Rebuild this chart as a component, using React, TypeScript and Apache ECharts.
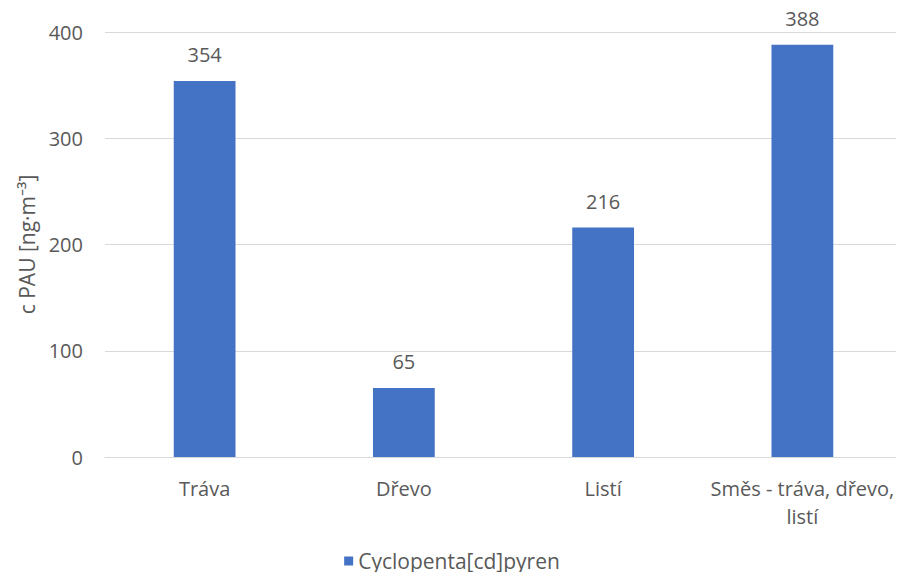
import React, { useEffect, useRef } from "react";
import * as echarts from "echarts";

const categories = ["Tráva", "Dřevo", "Listí", "Směs - tráva, dřevo,\nlistí"];
const values = [354, 65, 216, 388];
const seriesName = "Cyclopenta[cd]pyren";
const yAxisName = "c PAU [ng·m⁻³]";

const FONT = "'Open Sans', 'Noto Sans', sans-serif";
const TEXT = "#595959";
const SIZE = 20;

export default function App() {
  const ref = useRef<HTMLDivElement>(null);

  useEffect(() => {
    if (!ref.current) return;
    const chart = echarts.init(ref.current, null, { renderer: "svg" });
    chart.setOption({
      animation: false,
      backgroundColor: "#ffffff",
      textStyle: { fontFamily: FONT },
      grid: { left: 105, right: 2, top: 32, bottom: 123 },
      legend: {
        top: 548,
        left: "center",
        padding: 0,
        itemWidth: 9,
        itemHeight: 9,
        icon: "rect",
        itemGap: 4,
        textStyle: { color: TEXT, fontSize: 21, lineHeight: 26, fontFamily: FONT },
        data: [seriesName],
      },
      xAxis: {
        type: "category",
        data: categories,
        axisLine: { lineStyle: { color: "#d9d9d9", width: 1 } },
        axisTick: { show: false },
        axisLabel: {
          color: TEXT,
          fontSize: SIZE,
          fontFamily: FONT,
          margin: 17,
          lineHeight: 28,
          interval: 0,
        },
      },
      yAxis: {
        type: "value",
        min: 0,
        max: 400,
        interval: 100,
        name: yAxisName,
        nameLocation: "middle",
        nameGap: 68,
        nameRotate: 90,
        nameTextStyle: { color: TEXT, fontSize: 21, fontFamily: FONT },
        axisLine: { show: false },
        axisTick: { show: false },
        axisLabel: { color: TEXT, fontSize: SIZE, fontFamily: FONT, margin: 22 },
        splitLine: { lineStyle: { color: "#d9d9d9", width: 1 } },
      },
      series: [
        {
          name: seriesName,
          type: "bar",
          data: values,
          barWidth: "31%",
          itemStyle: { color: "#4472C4" },
          label: {
            show: true,
            position: "top",
            distance: 16,
            color: TEXT,
            fontSize: SIZE,
            fontFamily: FONT,
          },
        },
      ],
    });
    return () => chart.dispose();
  }, []);

  return <div ref={ref} style={{ width: 904, height: 580, margin: -8 }} />;
}
